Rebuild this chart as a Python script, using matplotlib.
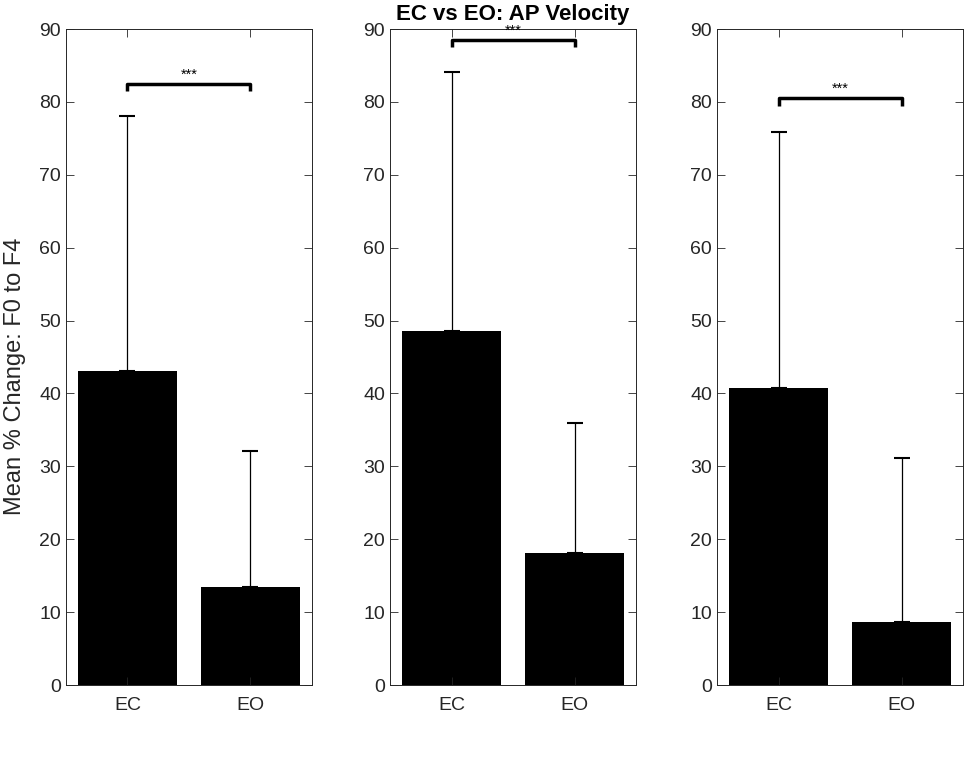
import matplotlib.pyplot as plt

plt.rcParams['font.family'] = ['Liberation Sans', 'DejaVu Sans']

conditions = ['EC', 'EO']
means = [[43.1, 13.4], [48.6, 18.1], [40.8, 8.7]]
err_tops = [[78.0, 32.1], [84.1, 36.0], [75.9, 31.2]]
bracket_y = [82.5, 88.5, 80.5]
sig_label = '***'

fig = plt.figure(figsize=(9.64, 7.71), dpi=100)
W, H = 964, 771
lefts = [66, 390, 717]
width = 246
top, bottom = 29, 685

grey = '#262626'
x = [1, 2]
for i in range(3):
    ax = fig.add_axes([lefts[i] / W, 1 - bottom / H, width / W, (bottom - top) / H])
    ax.bar(x, means[i], width=0.8, color='black')
    errs = [t - m for t, m in zip(err_tops[i], means[i])]
    ax.errorbar(x, means[i], yerr=[[0, 0], errs], fmt='none', ecolor='black',
                elinewidth=0.9, capsize=5.5, capthick=1.5)
    # significance bracket
    b = bracket_y[i]
    ax.plot([1, 1, 2, 2], [b - 1.0, b, b, b - 1.0], color='black', lw=2.5,
            solid_capstyle='butt')
    ax.text(1.5, b + 0.3, sig_label, ha='center', va='bottom', fontsize=10.5)
    ax.set_xlim(0.5, 2.5)
    ax.set_ylim(0, 90)
    ax.set_yticks(range(0, 91, 10))
    ax.set_xticks(x)
    ax.set_xticklabels(conditions)
    ax.tick_params(direction='in', top=True, right=True, labelsize=14,
                   colors=grey, length=6, width=0.6)
    ax.tick_params(axis='x', pad=9)
    for s in ax.spines.values():
        s.set_color(grey)
        s.set_linewidth(0.7)
    if i == 0:
        ax.set_ylabel('Mean % Change: F0 to F4', fontsize=17, color=grey)
        ax.yaxis.set_label_coords(-0.163, 0.47)
    if i == 1:
        ax.set_title('EC vs EO: AP Velocity', fontsize=16, fontweight='bold',
                     pad=6.5)

fig.savefig('out.png', dpi=100)
